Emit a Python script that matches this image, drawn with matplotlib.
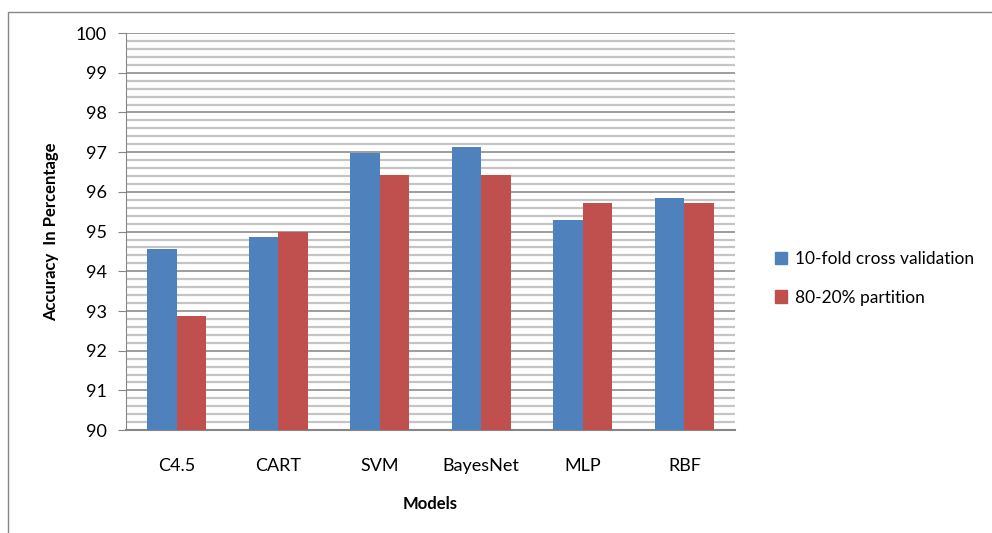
import matplotlib.pyplot as plt
import numpy as np
from matplotlib.patches import Rectangle, Patch

models = ['C4.5', 'CART', 'SVM', 'BayesNet', 'MLP', 'RBF']
cross_val = [94.56, 94.86, 96.98, 97.13, 95.29, 95.84]
partition = [92.87, 95.0, 96.42, 96.42, 95.72, 95.72]
series_names = ['10-fold cross validation', '80-20% partition']

blue = '#4f81bd'
red = '#c0504d'

plt.rcParams['font.family'] = ['Lato', 'DejaVu Sans']

fig = plt.figure(figsize=(9.92, 5.33), dpi=100)
ax = fig.add_axes([0.127, 0.193, 0.614, 0.745])

# outer chart frame
fig.patches.append(Rectangle((8 / 992, -0.1), 1.2, 1 - 12 / 533 + 0.1,
                             transform=fig.transFigure, fill=False,
                             edgecolor='#868686', linewidth=1))

x = np.arange(len(models))
w = 0.29
ax.bar(x - w / 2, cross_val, w, color=blue, zorder=3)
ax.bar(x + w / 2, partition, w, color=red, zorder=3)

ax.set_xlim(-0.5, len(models) - 0.5)
ax.set_ylim(90, 100)
ax.set_yticks(np.arange(90, 101, 1))
ax.set_yticks(np.arange(90, 100.01, 0.2), minor=True)

# gridlines
ax.grid(axis='y', which='minor', color='#c4c4c4', linewidth=1.6, zorder=0)
ax.grid(axis='y', which='major', color='#8c8c8c', linewidth=1.2, zorder=1)

for s in ['top', 'right']:
    ax.spines[s].set_visible(False)
ax.spines['left'].set_color('#868686')
ax.spines['bottom'].set_color('#868686')
ax.spines['bottom'].set_linewidth(1.5)

ax.set_xticks(x)
ax.set_xticklabels(models)
ax.tick_params(axis='x', length=0, pad=20, labelsize=13)
ax.tick_params(axis='y', which='major', length=6, color='#868686',
               labelsize=13, pad=8)
ax.tick_params(axis='y', which='minor', length=0)

ax.set_xlabel('Models', fontsize=12, fontweight='bold', labelpad=16)
ax.set_ylabel('Accuracy  In Percentage', fontsize=12, fontweight='bold',
              labelpad=12)

handles = [Patch(color=blue), Patch(color=red)]
fig.legend(handles, series_names, loc='center left',
           bbox_to_anchor=(0.765, 0.478), frameon=False, fontsize=12.5,
           handlelength=0.7, handleheight=0.7, handletextpad=0.5,
           labelspacing=1.3)

fig.savefig('out.png', dpi=100)
